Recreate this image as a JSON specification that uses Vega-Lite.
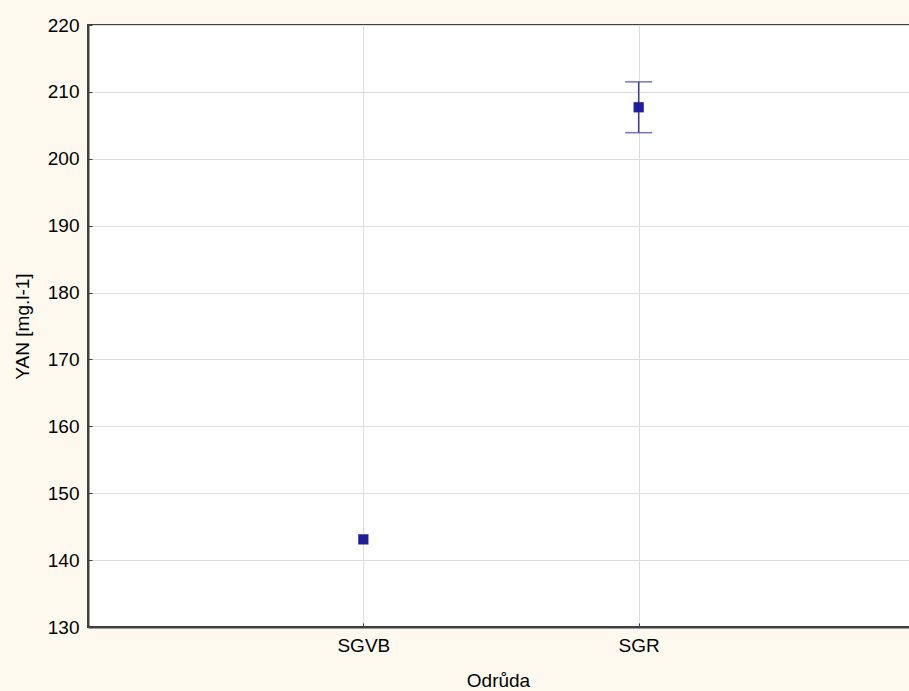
{
  "$schema": "https://vega.github.io/schema/vega-lite/v6.json",
  "width": 826,
  "height": 602,
  "autosize": "none",
  "padding": {"left": 88, "top": 25, "right": 0, "bottom": 64},
  "background": "#fdf9ee",
  "view": {"fill": "white", "stroke": "#404040", "strokeWidth": 2},
  "config": {
    "font": "Liberation Sans",
    "axis": {
      "labelFont": "Liberation Sans",
      "titleFont": "Liberation Sans",
      "labelFontSize": 19,
      "titleFontSize": 19,
      "titleFontWeight": "normal",
      "labelColor": "#000000",
      "titleColor": "#000000",
      "gridColor": "#dddddd",
      "gridWidth": 1,
      "domainColor": "#404040",
      "domainWidth": 2,
      "tickColor": "#404040",
      "tickWidth": 1
    }
  },
  "data": {
    "values": [
      {"Odruda": "SGVB", "mean": 143.1, "lo": null, "hi": null},
      {"Odruda": "SGR", "mean": 207.7, "lo": 203.9, "hi": 211.5}
    ]
  },
  "encoding": {
    "x": {
      "field": "Odruda",
      "type": "nominal",
      "sort": ["SGVB", "SGR"],
      "scale": {"type": "point", "padding": 1},
      "axis": {"title": "Odrůda", "titleX": 410, "labelAngle": 0, "labelPadding": 13, "titlePadding": 16, "grid": true, "ticks": true, "tickSize": -4}
    }
  },
  "layer": [
    {
      "mark": {"type": "rule", "color": "#3b3bab", "strokeWidth": 1.5},
      "encoding": {
        "y": {"field": "lo", "type": "quantitative"},
        "y2": {"field": "hi"}
      }
    },
    {
      "mark": {"type": "tick", "orient": "horizontal", "color": "#3b3bab", "size": 27, "thickness": 1.5},
      "encoding": {"y": {"field": "lo", "type": "quantitative"}}
    },
    {
      "mark": {"type": "tick", "orient": "horizontal", "color": "#3b3bab", "size": 27, "thickness": 1.5},
      "encoding": {"y": {"field": "hi", "type": "quantitative"}}
    },
    {
      "mark": {"type": "point", "shape": "square", "filled": true, "size": 105, "color": "#1f1f9e", "opacity": 1},
      "encoding": {
        "y": {
          "field": "mean",
          "type": "quantitative",
          "scale": {"domain": [130, 220], "nice": false, "zero": false},
          "axis": {"title": "YAN [mg.l-1]", "values": [130, 140, 150, 160, 170, 180, 190, 200, 210, 220], "labelPadding": 13, "titlePadding": 15, "grid": true, "ticks": true, "tickSize": -4}
        }
      }
    }
  ]
}
